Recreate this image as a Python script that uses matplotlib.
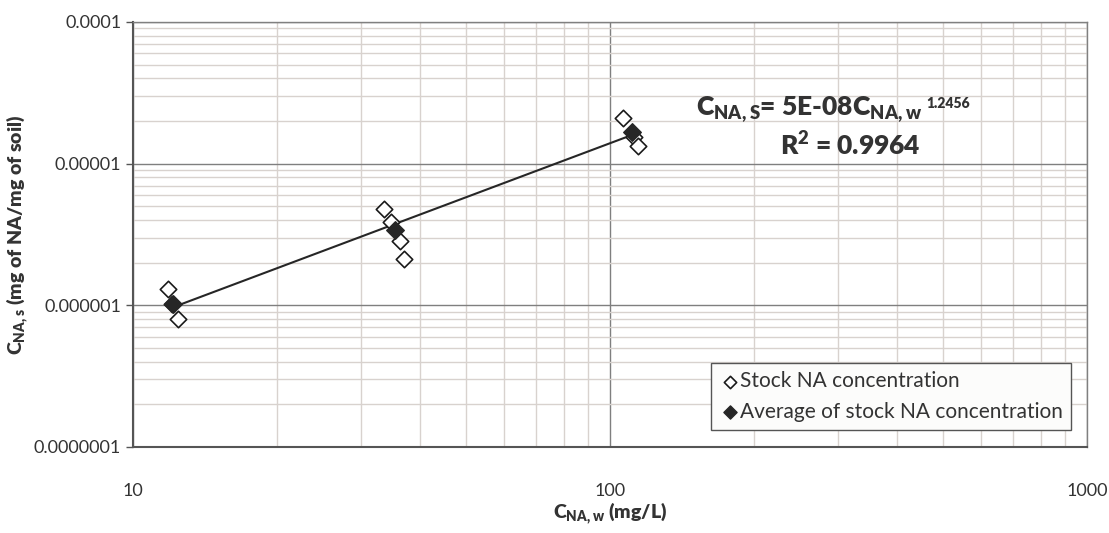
import numpy as np
import matplotlib
matplotlib.use("Agg")
import matplotlib.pyplot as plt
from matplotlib.ticker import FixedLocator, LogLocator, NullFormatter

plt.rcParams['font.family'] = ['Lato', 'DejaVu Sans']
plt.rcParams['mathtext.default'] = 'regular'

# stock NA concentration (open diamonds)
stock_w = [11.84, 12.1, 12.43, 33.6, 34.8, 36.3, 37.0, 106.4, 112.2, 114.5]
stock_s = [1.31e-6, 1.03e-6, 8.0e-7, 4.79e-6, 3.88e-6, 2.85e-6, 2.12e-6,
           2.10e-5, 1.54e-5, 1.33e-5]

# average of stock NA concentration (filled diamonds)
avg_w = [12.13, 35.4, 111.1]
avg_s = [1.02e-6, 3.40e-6, 1.67e-5]

x_ticks = [10, 100, 1000]
x_labels = ["10", "100", "1000"]
y_ticks = [1e-7, 1e-6, 1e-5, 1e-4]
y_labels = ["0.0000001", "0.000001", "0.00001", "0.0001"]

fig = plt.figure(figsize=(11.09, 5.33), dpi=100)
ax = fig.add_axes([133 / 1109, 1 - 447 / 533, (1087 - 133) / 1109, (447 - 22) / 533])

# power trendline fitted in log-log space on the averages
coef = np.polyfit(np.log10(avg_w), np.log10(avg_s), 1)
xf = np.array([min(avg_w), max(avg_w)])
yf = 10 ** np.polyval(coef, np.log10(xf))
ax.plot(xf, yf, color='#262626', lw=1.5, zorder=3)

ax.scatter(stock_w, stock_s, marker='D', s=70, facecolor='white',
           edgecolor='#1a1a1a', linewidth=1.2, zorder=4, label='Stock NA concentration')
ax.scatter(avg_w, avg_s, marker='D', s=80, facecolor='#262626',
           edgecolor='#262626', linewidth=1.0, zorder=5, label='Average of stock NA concentration')

ax.set_xscale('log')
ax.set_yscale('log')
ax.set_xlim(10, 1000)
ax.set_ylim(1e-7, 1e-4)

ax.xaxis.set_major_locator(FixedLocator(x_ticks))
ax.set_xticklabels(x_labels)
ax.yaxis.set_major_locator(FixedLocator(y_ticks))
ax.set_yticklabels(y_labels)
ax.xaxis.set_minor_locator(LogLocator(base=10, subs=np.arange(2, 10)))
ax.yaxis.set_minor_locator(LogLocator(base=10, subs=np.arange(2, 10)))
ax.xaxis.set_minor_formatter(NullFormatter())
ax.yaxis.set_minor_formatter(NullFormatter())

ax.grid(which='minor', color='#d8d2ce', lw=1.0)
ax.grid(which='major', color='#7f7f7f', lw=1.0)
ax.set_axisbelow(True)

ax.tick_params(axis='x', which='both', length=0, pad=26, labelsize=13, colors='#333333')
ax.tick_params(axis='y', which='major', length=5, width=1, color='#555555',
               labelsize=13, labelcolor='#333333')
ax.tick_params(axis='y', which='minor', length=0)

for side in ['left', 'bottom']:
    ax.spines[side].set_color('#555555')
    ax.spines[side].set_linewidth(1.5)
for side in ['right', 'top']:
    ax.spines[side].set_color('#808080')
    ax.spines[side].set_linewidth(1.0)

ax.set_xlabel(r'C$_{NA,w}$ (mg/L)', fontsize=14, fontweight='heavy', color='#333333')
ax.xaxis.set_label_coords(0.5, -0.126)
ax.set_ylabel(r'C$_{NA,s}$ (mg of NA/mg of soil)', fontsize=14,
              fontweight='heavy', color='#333333')
ax.yaxis.set_label_coords(-0.107, 0.5)

ax.text(0.59, 0.795, r'C$_{NA,S}$= 5E-08C$_{NA,w}$',
        transform=ax.transAxes, fontsize=19, fontweight='heavy', color='#333333',
        ha='left', va='center')
ax.text(0.832, 0.808, '1.2456', transform=ax.transAxes, fontsize=10,
        fontweight='heavy', color='#333333', ha='left', va='center')
ax.text(0.678, 0.71, r'R$^{2}$ = 0.9964', transform=ax.transAxes,
        fontsize=19, fontweight='heavy', color='#333333', ha='left', va='center')

leg = ax.legend(loc='lower right', bbox_to_anchor=(0.9835, 0.04), frameon=True,
                fancybox=False, fontsize=15, handletextpad=0.0, handlelength=1.0,
                borderpad=0.4, labelspacing=0.5, markerscale=0.75, borderaxespad=0)
leg.get_frame().set_edgecolor('#555555')
leg.get_frame().set_facecolor('#fcfcfb')
leg.get_frame().set_alpha(1)
for t in leg.get_texts():
    t.set_color('#333333')

fig.savefig('out.png', dpi=100)
